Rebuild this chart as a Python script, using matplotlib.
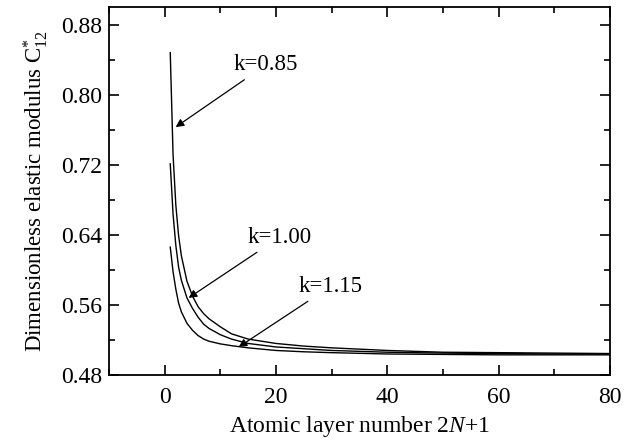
import matplotlib
matplotlib.use("Agg")
import matplotlib.pyplot as plt
from matplotlib.ticker import MultipleLocator

plt.rcParams['font.family'] = ['Liberation Serif', 'DejaVu Serif']
plt.rcParams['mathtext.fontset'] = 'custom'
plt.rcParams['mathtext.rm'] = 'Liberation Serif'
plt.rcParams['mathtext.it'] = 'Liberation Serif:italic'

# data
layers = [1, 1.5, 2, 2.5, 3, 4, 5, 6, 7, 8, 10, 12, 15, 20, 25, 30, 40, 50, 60, 70, 80]
c12_k085 = [0.848, 0.732, 0.674, 0.639, 0.616, 0.587, 0.570, 0.558, 0.550, 0.544,
            0.535, 0.527, 0.521, 0.516, 0.513, 0.511, 0.508, 0.506, 0.5055, 0.505, 0.5045]
c12_k100 = [0.721, 0.664, 0.628, 0.603, 0.588, 0.568, 0.556, 0.546, 0.538, 0.533,
            0.526, 0.521, 0.516, 0.512, 0.510, 0.508, 0.506, 0.505, 0.5045, 0.504, 0.504]
c12_k115 = [0.626, 0.598, 0.578, 0.562, 0.552, 0.539, 0.531, 0.525, 0.521, 0.5185,
            0.5155, 0.5135, 0.511, 0.508, 0.5065, 0.5055, 0.504, 0.5035, 0.503, 0.503, 0.503]

labels = ["k=0.85", "k=1.00", "k=1.15"]
text_pos = [(12.4, 0.834), (14.8, 0.637), (24.0, 0.581)]
arrow_tip = [(1.97, 0.763), (4.3, 0.568), (13.3, 0.512)]

xticks = [0, 20, 40, 60, 80]
yticks = [0.48, 0.56, 0.64, 0.72, 0.80, 0.88]

fig = plt.figure(figsize=(6.35, 4.43), dpi=100)
ax = fig.add_axes([0.1717, 0.1535, 0.7889, 0.8305])

for series in (c12_k085, c12_k100, c12_k115):
    ax.plot(layers, series, color='black', lw=1.0)

for lab, tp, tip in zip(labels, text_pos, arrow_tip):
    ax.annotate(lab, xy=tip, xytext=tp, fontsize=16.5, ha='left', va='center',
                arrowprops=dict(arrowstyle='-|>', color='black', lw=0.9,
                                mutation_scale=12, shrinkA=2, shrinkB=0))

ax.set_xlim(-10, 80)
ax.set_ylim(0.48, 0.90)
ax.set_xticks(xticks)
ax.set_yticks(yticks)
ax.set_yticklabels([f"{v:.2f}" for v in yticks])
ax.xaxis.set_minor_locator(MultipleLocator(10))
ax.yaxis.set_minor_locator(MultipleLocator(0.04))
ax.tick_params(which='both', direction='in', top=True, right=True, labelsize=17, width=1.2)
ax.tick_params(which='major', length=7)
ax.tick_params(which='minor', length=4)
ax.tick_params(axis='x', pad=9)
ax.tick_params(axis='y', pad=5)
for s in ax.spines.values():
    s.set_linewidth(1.3)

ax.set_xlabel(r"Atomic layer number 2$N$+1", fontsize=17, labelpad=4)
ax.set_ylabel(r"Dimensionless elastic modulus C$_{12}^{*}$", fontsize=16.5, labelpad=8)

fig.savefig("out.png", dpi=100)
